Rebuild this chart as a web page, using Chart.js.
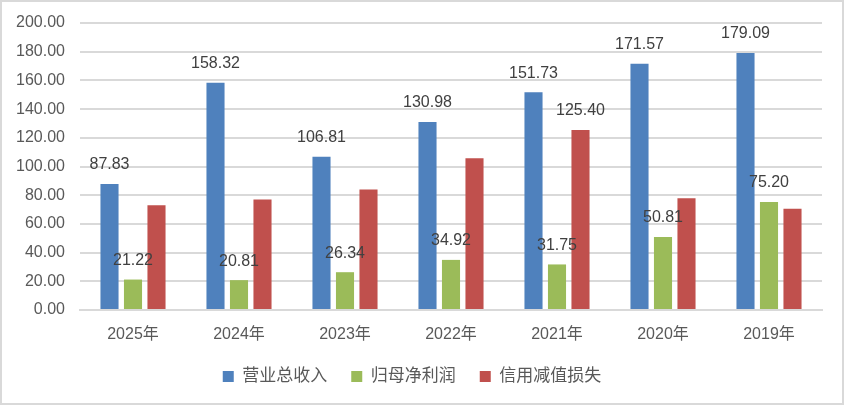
<!DOCTYPE html>
<html>
<head>
<meta charset="utf-8">
<script src="https://cdn.jsdelivr.net/npm/chart.js@4.4.1/dist/chart.umd.min.js"></script>
<style>
  html, body { margin: 0; padding: 0; background: #fff; }
  #wrap {
    width: 844px; height: 405px; box-sizing: border-box;
    border: 2px solid #d9d9d9; background: #fff;
  }
</style>
</head>
<body>
<div id="wrap"><canvas id="myBarChart" width="840" height="401"></canvas></div>
<script>
var years = ["2025年", "2024年", "2023年", "2022年", "2021年", "2020年", "2019年"];
var revenue = [87.83, 158.32, 106.81, 130.98, 151.73, 171.57, 179.09];
var netProfit = [21.22, 20.81, 26.34, 34.92, 31.75, 50.81, 75.20];
var creditLoss = [73.0, 77.0, 84.0, 105.7, 125.40, 77.8, 70.6];
// which red bars carry a value label in the picture
var creditLossLabeled = [false, false, false, false, true, false, false];

var FONT = '"Liberation Sans", "Noto Sans CJK SC", sans-serif';

var barLabels = {
    id: 'barLabels',
    afterDatasetsDraw: function (chart) {
        var ctx = chart.ctx;
        ctx.save();
        ctx.font = '16px ' + FONT;
        ctx.fillStyle = '#404040';
        ctx.textAlign = 'center';
        ctx.textBaseline = 'middle';
        chart.data.datasets.forEach(function (ds, i) {
            var meta = chart.getDatasetMeta(i);
            meta.data.forEach(function (bar, j) {
                if (ds.showLabel && !ds.showLabel[j]) return;
                ctx.fillText(ds.data[j].toFixed(2), bar.x, bar.y - 19);
            });
        });
        ctx.restore();
    }
};

var myBarChart = new Chart(document.getElementById("myBarChart"), {
    type: 'bar',
    data: {
        labels: years,
        datasets: [
            {
                label: "营业总收入",
                data: revenue,
                backgroundColor: "#4f81bd"
            },
            {
                label: "归母净利润",
                data: netProfit,
                backgroundColor: "#9bbb59"
            },
            {
                label: "信用减值损失",
                data: creditLoss,
                backgroundColor: "#c0504d",
                showLabel: creditLossLabeled
            }
        ]
    },
    options: {
        responsive: false,
        animation: false,
        devicePixelRatio: 1,
        categoryPercentage: 0.665,
        barPercentage: 0.77,
        layout: {
            padding: { top: 21, right: 20, left: 0, bottom: 8 }
        },
        plugins: {
            tooltip: { enabled: false },
            legend: {
                position: 'bottom',
                labels: {
                    boxWidth: 11,
                    boxHeight: 11,
                    padding: 24,
                    color: '#595959',
                    font: { size: 17, family: FONT }
                }
            }
        },
        scales: {
            x: {
                afterFit: function (scale) { scale.height = 34; },
                grid: { display: false, drawTicks: false },
                border: { color: '#d9d9d9', width: 2 },
                ticks: {
                    color: '#595959',
                    padding: 15,
                    autoSkip: false,
                    maxRotation: 0,
                    font: { size: 16, family: FONT }
                }
            },
            y: {
                min: 0,
                max: 200,
                afterFit: function (scale) {
                    scale.width = 78;
                    scale.paddingTop = 0;
                    scale.paddingBottom = 0;
                },
                grid: { color: '#d9d9d9', lineWidth: 2, drawTicks: false },
                border: { display: false },
                ticks: {
                    stepSize: 20,
                    padding: 15,
                    color: '#595959',
                    font: { size: 16, family: FONT },
                    callback: function (v) { return v.toFixed(2); }
                }
            }
        }
    },
    plugins: [barLabels]
});
</script>
</body>
</html>
